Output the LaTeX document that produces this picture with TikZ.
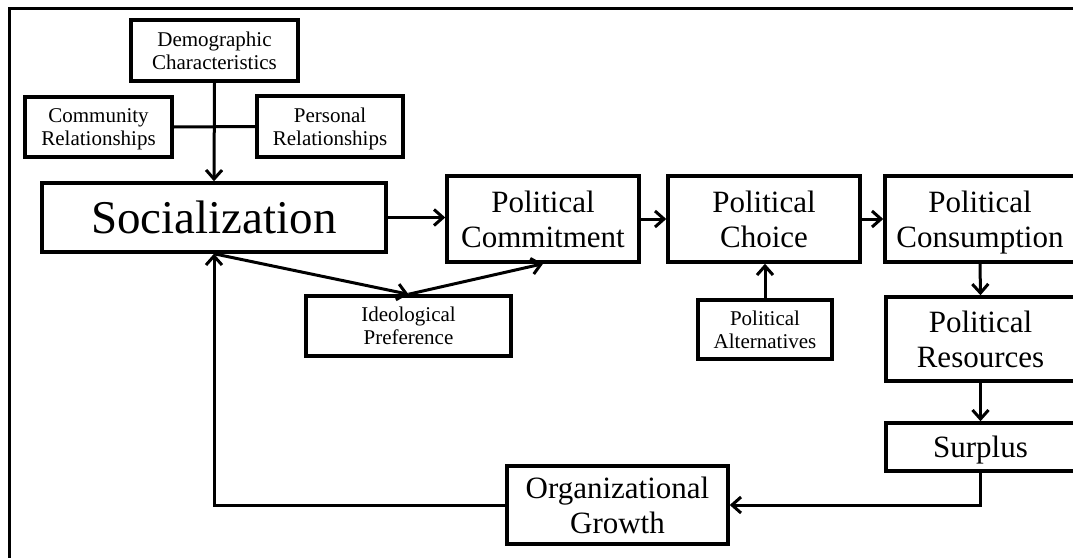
\documentclass[tikz,border=0pt]{standalone}
\usepackage{fontspec}
\setmainfont{Liberation Serif}
\usetikzlibrary{arrows.meta, positioning}
\tikzstyle{box} = [draw, line width=3.5pt, align=center, inner sep=0pt, text depth=0pt]
\tikzstyle{bigtext} = [font=\fontsize{31}{35}\selectfont]
\tikzstyle{smalltext} = [font=\fontsize{21}{23}\selectfont]
\tikzstyle{arrow} = [line width=3pt,-{Straight Barb[length=9pt,width=16pt,line width=3pt]}]

\begin{document}
\begin{tikzpicture}[x=1pt, y=-1pt]
        \clip (0,0) rectangle (1073,557);
        % frame
        \draw[line width=3pt] (9,570) -- (9,8) -- (1090,8);
        % input boxes
        \node[box, smalltext, minimum width=167, minimum height=61] (demo) at (214.5,50.5) {Demographic\\Characteristics};
        \node[box, smalltext, minimum width=147, minimum height=60] (comm) at (98.5,127) {Community\\Relationships};
        \node[box, smalltext, minimum width=146, minimum height=61] (pers) at (330,126.5) {Personal\\Relationships};
        \node[box, font=\fontsize{47}{50}\selectfont, minimum width=344, minimum height=69] (soc) at (214,217.5) {Socialization};
        % main chain
        \node[box, bigtext, minimum width=192, minimum height=86] (commit) at (543,219) {Political\\Commitment};
        \node[box, bigtext, minimum width=192, minimum height=86] (choice) at (764,219) {Political\\Choice};
        \node[box, bigtext, minimum width=190, minimum height=86] (consum) at (980,219) {Political\\Consumption};
        \node[box, smalltext, minimum width=205, minimum height=60] (ideo) at (408.5,326) {Ideological\\Preference};
        \node[box, smalltext, minimum width=134, minimum height=59] (alt) at (765,329.5) {Political\\Alternatives};
        \node[box, bigtext, minimum width=189, minimum height=84] (res) at (980.5,339) {Political\\Resources};
        \node[box, bigtext, minimum width=189, minimum height=48] (surp) at (980.5,447) {Surplus};
        \node[box, bigtext, minimum width=221, minimum height=78] (org) at (617.5,505) {Organizational\\Growth};

        \draw[line width=3pt] (comm.east) -- (pers.west);
        \draw[arrow] (demo.south) -- (soc.north);
        \draw[arrow] (soc.east) -- (soc.east -| commit.west);
        \draw[arrow] (commit.east) -- (commit.east -| choice.west);
        \draw[arrow] (choice.east) -- (choice.east -| consum.west);
        \draw[arrow] (soc.south) -- (ideo.north);
        \draw[arrow] (ideo.north) -- (commit.south);
        \draw[arrow] (alt.north) -- (alt.north |- choice.south);
        \draw[arrow] (consum.south) -- (res.north);
        \draw[arrow] (res.south) -- (surp.north);
        \draw[arrow] (surp.south) |- (org.east);
        \draw[arrow] (org.west) -| (soc.south);
    \end{tikzpicture}
\end{document}
